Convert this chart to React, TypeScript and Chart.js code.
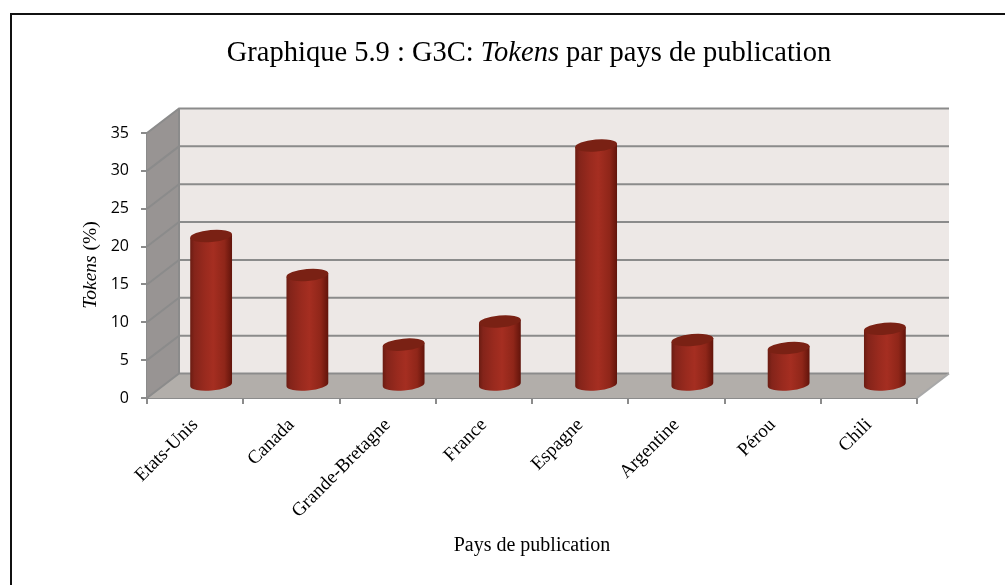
import React, { useEffect, useRef } from "react";
import { Chart, registerables } from "chart.js";

Chart.register(...registerables);

const categories = ["Etats-Unis", "Canada", "Grande-Bretagne", "France", "Espagne", "Argentine", "Pérou", "Chili"];
const tokens = [19.75, 14.6, 5.4, 8.45, 31.7, 6.0, 4.95, 7.5];
const titleRuns = [
  { text: "Graphique 5.9 : G3C: ", italic: false },
  { text: "Tokens", italic: true },
  { text: " par pays de publication", italic: false },
];
const yTitleRuns = [
  { text: "Tokens", italic: true },
  { text: " (%)", italic: false },
];
const xTitle = "Pays de publication";

const SERIF = '"Liberation Serif", serif';
const SANS = '"Open Sans", sans-serif';

function drawRuns(ctx: CanvasRenderingContext2D, runs: { text: string; italic: boolean }[], size: number, cx: number, cy: number, angle: number) {
  ctx.save();
  ctx.translate(cx, cy);
  ctx.rotate(angle);
  ctx.textBaseline = "middle";
  ctx.textAlign = "left";
  ctx.fillStyle = "#000";
  const fontOf = (r: { italic: boolean }) => `${r.italic ? "italic " : ""}${size}px ${SERIF}`;
  let total = 0;
  for (const r of runs) {
    ctx.font = fontOf(r);
    total += ctx.measureText(r.text).width;
  }
  let x = -total / 2;
  for (const r of runs) {
    ctx.font = fontOf(r);
    ctx.fillText(r.text, x, 0);
    x += ctx.measureText(r.text).width;
  }
  ctx.restore();
}

const DX = 32;
const DY = -24.5;

const chart3d = {
  id: "chart3d",
  beforeDraw(chart: any) {
    const { ctx, width, height } = chart;
    ctx.save();
    ctx.fillStyle = "#fff";
    ctx.fillRect(0, 0, width, height);
    ctx.strokeStyle = "#111";
    ctx.lineWidth = 2;
    ctx.beginPath();
    ctx.moveTo(11, height);
    ctx.lineTo(11, 14);
    ctx.lineTo(width, 14);
    ctx.stroke();
    ctx.restore();
  },
  beforeDatasetsDraw(chart: any) {
    const { ctx, scales } = chart;
    const xs = scales.x;
    const ys = scales.y;
    const l = xs.left;
    const r = xs.right;
    const y0 = ys.getPixelForValue(0);
    const yMax = ys.getPixelForValue(35);
    ctx.save();
    // side wall
    ctx.fillStyle = "#989493";
    ctx.beginPath();
    ctx.moveTo(l, y0);
    ctx.lineTo(l, yMax);
    ctx.lineTo(l + DX, yMax + DY);
    ctx.lineTo(l + DX, y0 + DY);
    ctx.closePath();
    ctx.fill();
    // back wall
    ctx.fillStyle = "#ede8e6";
    ctx.fillRect(l + DX, yMax + DY, r - l, y0 - yMax);
    // floor
    ctx.fillStyle = "#b2aeaa";
    ctx.beginPath();
    ctx.moveTo(l, y0);
    ctx.lineTo(r, y0);
    ctx.lineTo(r + DX, y0 + DY);
    ctx.lineTo(l + DX, y0 + DY);
    ctx.closePath();
    ctx.fill();
    // grid lines
    ctx.lineWidth = 2;
    ctx.strokeStyle = "#8b8b8b";
    for (const t of ys.ticks) {
      const py = ys.getPixelForValue(t.value);
      ctx.beginPath();
      ctx.moveTo(l, py);
      ctx.lineTo(l + DX, py + DY);
      ctx.lineTo(r + DX, py + DY);
      ctx.stroke();
    }
    ctx.beginPath();
    ctx.moveTo(l + DX, yMax + DY);
    ctx.lineTo(l + DX, y0 + DY);
    ctx.stroke();
    ctx.strokeStyle = "#a8a8a8";
    ctx.beginPath();
    ctx.moveTo(r, y0);
    ctx.lineTo(r + DX, y0 + DY);
    ctx.stroke();
    // cylinders
    const meta = chart.getDatasetMeta(0);
    const rot = (-5 * Math.PI) / 180;
    const ry = 6;
    for (const bar of meta.data) {
      const rx = bar.width / 2;
      const cx = bar.x + 16;
      const baseY = bar.base - 12.5;
      const topY = bar.y - 12.5;
      const g = ctx.createLinearGradient(cx - rx, 0, cx + rx, 0);
      g.addColorStop(0, "#6a1c12");
      g.addColorStop(0.1, "#84241a");
      g.addColorStop(0.35, "#992a1e");
      g.addColorStop(0.55, "#a52e21");
      g.addColorStop(0.82, "#8f2619");
      g.addColorStop(0.96, "#6c180e");
      g.addColorStop(1, "#5f140b");
      const tipDy = rx * Math.sin(rot);
      const tipDx = rx * Math.cos(rot);
      ctx.fillStyle = g;
      ctx.beginPath();
      ctx.ellipse(cx, baseY, rx, ry, rot, 0, Math.PI, false);
      ctx.lineTo(cx - tipDx, topY - tipDy);
      ctx.lineTo(cx + tipDx, topY + tipDy);
      ctx.closePath();
      ctx.fill();
      ctx.fillStyle = "#7a2114";
      ctx.beginPath();
      ctx.ellipse(cx, topY, rx, ry, rot, 0, Math.PI * 2);
      ctx.fill();
    }
    ctx.restore();
  },
  beforeDatasetDraw() {
    return false;
  },
  afterDraw(chart: any) {
    const { ctx } = chart;
    drawRuns(ctx, titleRuns, 28.5, 529, 54, 0);
    drawRuns(ctx, yTitleRuns, 19.5, 91, 265, -Math.PI / 2);
  },
};

export default function App() {
  const ref = useRef<HTMLCanvasElement | null>(null);
  useEffect(() => {
    document.body.style.margin = "0";
    document.body.style.background = "#fff";
    const chart = new Chart(ref.current as HTMLCanvasElement, {
      type: "bar",
      data: {
        labels: categories,
        datasets: [
          {
            label: "Tokens (%)",
            data: tokens,
            backgroundColor: "#a52e21",
            categoryPercentage: 1,
            barPercentage: 0.436,
          },
        ],
      },
      plugins: [chart3d],
      options: {
        responsive: false,
        animation: false,
        layout: { padding: { left: 107, right: 88, top: 133, bottom: 27 } },
        plugins: { legend: { display: false }, title: { display: false }, tooltip: { enabled: false } },
        scales: {
          x: {
            afterFit(s: any) {
              s.height = 160;
            },
            grid: { drawOnChartArea: false, tickLength: 6, color: "#8b8b8b", lineWidth: 2 },
            border: { color: "#8b8b8b", width: 2 },
            ticks: {
              minRotation: 45,
              maxRotation: 45,
              autoSkip: false,
              color: "#000",
              padding: 10,
              font: { family: SERIF, size: 19 },
            },
            title: { display: true, text: xTitle, color: "#000", font: { family: SERIF, size: 20 }, padding: 0 },
          },
          y: {
            min: 0,
            max: 35,
            afterFit(s: any) {
              s.width = 40;
            },
            grid: { drawOnChartArea: false, tickLength: 6, color: "#8b8b8b", lineWidth: 2 },
            border: { color: "#8b8b8b", width: 2 },
            ticks: { stepSize: 5, color: "#000", padding: 12, font: { family: SANS, size: 16 } },
          },
        },
      },
    } as any);
    return () => chart.destroy();
  }, []);
  return <canvas ref={ref} width={1005} height={585} style={{ display: "block" }} />;
}
